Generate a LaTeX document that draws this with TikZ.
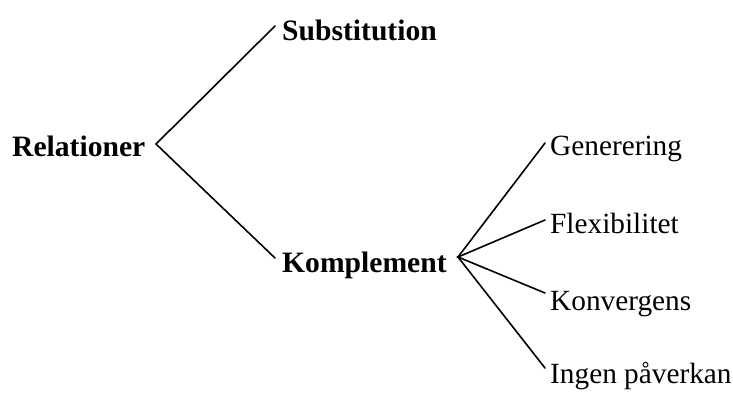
\documentclass[tikz,border=0pt]{standalone}
\usepackage{fontspec}
\setmainfont{Liberation Serif}
\begin{document}
\begin{tikzpicture}[x=1pt,y=-1pt,
  lbl/.style={inner sep=0pt,anchor=base west,font=\fontsize{29.3}{34}\selectfont},
  blbl/.style={lbl,font=\fontsize{29.6}{34}\selectfont\bfseries},
  conn/.style={line width=1.6pt,line cap=round,line join=miter}]
\useasboundingbox (0,0) rectangle (733,392);
\node[blbl] (rel) at (12,156) {Relationer};
\node[blbl] (sub) at (282,40) {Substitution};
\node[blbl] (kom) at (282,272) {Komplement};
\node[lbl] (gen) at (550,155) {Generering};
\node[lbl] (flex) at (550,233) {Flexibilitet};
\node[lbl] (konv) at (550,310) {Konvergens};
\node[lbl] (ingen) at (550,383) {Ingen påverkan};
\coordinate (relA) at (156,144);
\coordinate (subE) at (275,26);
\coordinate (komE) at (275,258);
\coordinate (komA) at (458,257);
\coordinate (genE) at (545,143);
\coordinate (flexE) at (545,220);
\coordinate (konvE) at (545,293);
\coordinate (ingenE) at (545,368);
\draw[conn] (subE) -- (relA) -- (komE);
\draw[conn] (genE) -- (komA) -- (ingenE);
\draw[conn] (flexE) -- (komA) -- (konvE);
\end{tikzpicture}
\end{document}
